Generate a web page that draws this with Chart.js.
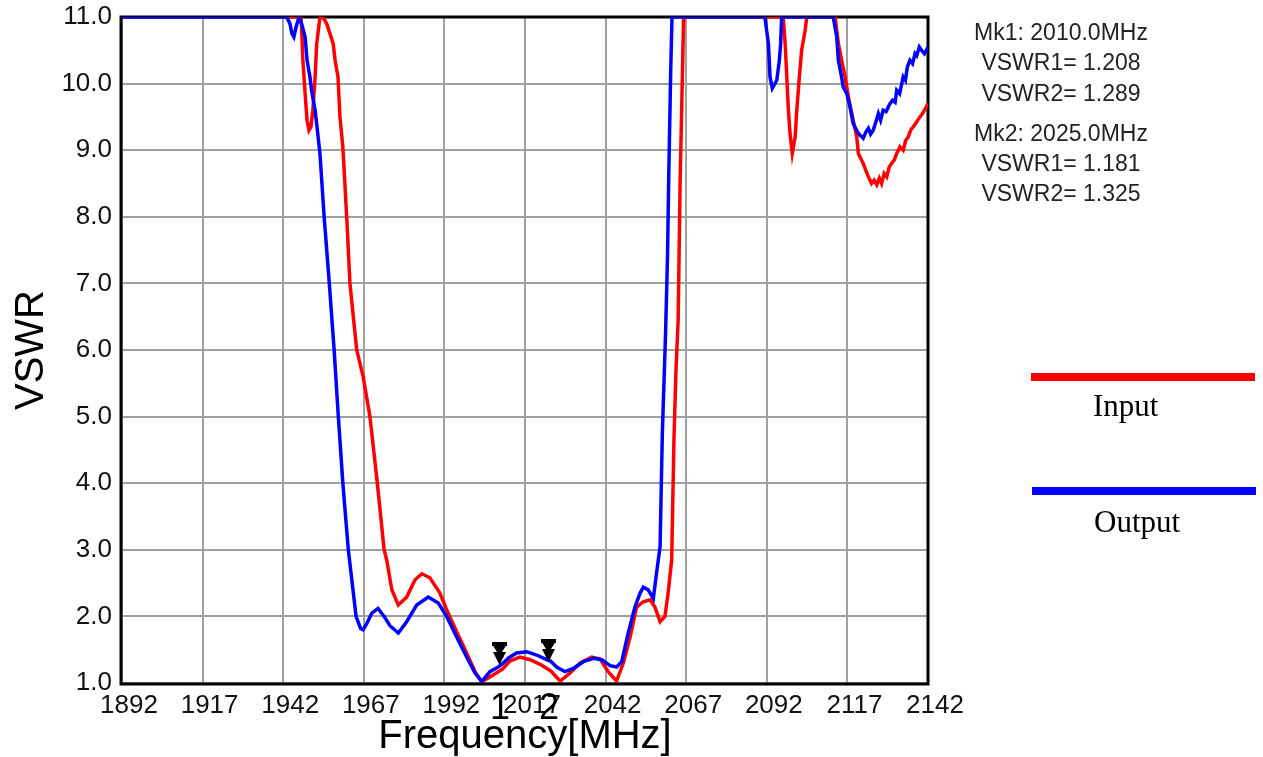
<!DOCTYPE html>
<html>
<head>
<meta charset="utf-8">
<script src="https://cdn.jsdelivr.net/npm/chart.js@4.4.0/dist/chart.umd.min.js"></script>
<style>
  html, body { margin: 0; padding: 0; background: #fff; }
  #wrap { position: relative; width: 1263px; height: 757px; }
</style>
</head>
<body>
<div id="wrap"><canvas id="vswr"></canvas></div>
<script>
// Colors
const COLORS = {
    input: '#ff0000',
    output: '#0000ff',
    grid: '#a0a0a0',
    axis: '#000000',
    text: '#111111'
};

// Input trace (VSWR1, red)
const inputFreq = [1892, 1947.5, 1947.7, 1948.1, 1948.8, 1949.4, 1950.0, 1950.6, 1951.2, 1951.9,
    1952.4, 1953.4, 1954.3, 1955.5, 1956.5, 1957.5, 1958.1, 1959.0, 1959.6, 1960.5,
    1961.7, 1962.7, 1964.8, 1966.8, 1968.9, 1971.2, 1973.3, 1974.1, 1975.7, 1977.7,
    1980.3, 1982.9, 1985.0, 1987.5, 1990.6, 1992.7, 1995.8, 1998.9, 2001.5, 2003.6,
    2006.1, 2010.0, 2012.3, 2015.4, 2018.6, 2021.7, 2025.0, 2027.9, 2031.0, 2034.1,
    2037.7, 2040.3, 2042.8, 2045.4, 2047.5, 2049.6, 2051.6, 2053.7, 2055.8, 2057.3,
    2058.9, 2060.4, 2061.4, 2062.5, 2063.2, 2063.8, 2064.5, 2064.8, 2065.1, 2065.7,
    2066.2, 2097.1, 2097.7, 2098.2, 2098.7, 2099.2, 2099.9, 2100.8, 2101.3, 2102.1,
    2102.8, 2103.9, 2104.4, 2113.2, 2114.2, 2115.2, 2116.3, 2117.3, 2118.8, 2119.9,
    2120.4, 2121.9, 2123.5, 2124.5, 2125.3, 2126.1, 2126.9, 2127.6, 2128.4, 2129.2,
    2130.0, 2130.7, 2131.5, 2132.3, 2133.3, 2134.3, 2135.1, 2135.9, 2136.6, 2137.4,
    2138.4, 2139.5, 2140.3, 2140.9, 2142];
const inputVswr = [11, 11, 10.85, 10.35, 9.85, 9.45, 9.3, 9.35, 9.6, 10.1,
    10.6, 11, 11, 10.9, 10.75, 10.6, 10.35, 10.1, 9.5, 9.05,
    8.0, 7.0, 6.0, 5.6, 5.0, 4.0, 3.0, 2.85, 2.4, 2.17,
    2.29, 2.55, 2.64, 2.58, 2.35, 2.1, 1.77, 1.45, 1.17, 1.02,
    1.09, 1.208, 1.33, 1.39, 1.35, 1.28, 1.181, 1.03, 1.15, 1.3,
    1.39, 1.36, 1.17, 1.03, 1.3, 1.69, 2.14, 2.22, 2.25, 2.14,
    1.92, 2.0, 2.35, 2.85, 4.65, 5.65, 6.45, 7.45, 8.5, 9.85,
    11, 11, 10.6, 10.1, 9.6, 9.25, 8.95, 9.2, 9.6, 10.1,
    10.5, 10.8, 11, 11, 10.6, 10.35, 10.1, 9.8, 9.45, 9.2,
    8.95, 8.8, 8.6, 8.5, 8.55, 8.48, 8.58, 8.5, 8.65, 8.6,
    8.75, 8.8, 8.85, 8.95, 9.05, 9.0, 9.15, 9.2, 9.3, 9.35,
    9.42, 9.5, 9.55, 9.6, 9.7];

// Output trace (VSWR2, blue)
const outputFreq = [1892, 1943.1, 1944.1, 1944.7, 1945.3, 1946.0, 1946.9, 1947.7, 1948.8, 1949.4,
    1950.3, 1950.8, 1951.9, 1952.6, 1953.4, 1954.7, 1956.3, 1957.8, 1959.1, 1960.5,
    1962.2, 1964.6, 1966.0, 1966.8, 1968.0, 1969.5, 1971.4, 1973.3, 1975.1, 1977.7,
    1980.3, 1983.4, 1987.0, 1990.1, 1992.7, 1995.8, 1998.9, 2001.5, 2003.6, 2006.1,
    2008.7, 2010.0, 2012.0, 2014.4, 2017.5, 2020.6, 2023.7, 2025.0, 2026.8, 2029.4,
    2032.0, 2035.1, 2038.2, 2040.8, 2043.4, 2045.4, 2047.0, 2049.0, 2051.1, 2052.7,
    2053.7, 2055.2, 2056.8, 2057.8, 2058.9, 2059.6, 2060.6, 2061.2, 2061.6, 2062.2,
    2062.6, 2091.4, 2092.5, 2093.0, 2093.7, 2095.1, 2095.9, 2096.3, 2096.6, 2112.6,
    2113.7, 2114.2, 2115.2, 2115.7, 2116.8, 2117.8, 2118.8, 2120.4, 2121.9, 2122.8,
    2123.5, 2124.2, 2125.0, 2125.8, 2126.6, 2127.3, 2128.1, 2129.0, 2130.2, 2131.0,
    2131.8, 2132.3, 2133.2, 2134.3, 2135.0, 2135.6, 2136.4, 2137.2, 2138.0, 2138.5,
    2139.3, 2140.0, 2140.9, 2142];
const outputVswr = [11, 11, 10.9, 10.75, 10.7, 10.85, 11, 10.9, 10.7, 10.35,
    10.1, 9.9, 9.6, 9.3, 8.95, 8.0, 7.0, 6.0, 5.0, 4.0,
    3.0, 2.0, 1.82, 1.8, 1.9, 2.05, 2.12, 2.0, 1.86, 1.75,
    1.92, 2.17, 2.29, 2.2, 2.0, 1.69, 1.39, 1.15, 1.02, 1.17,
    1.24, 1.289, 1.38, 1.45, 1.47, 1.42, 1.35, 1.325, 1.24, 1.17,
    1.22, 1.32, 1.37, 1.35, 1.26, 1.24, 1.32, 1.75, 2.14, 2.35,
    2.44, 2.4, 2.27, 2.65, 3.05, 4.75, 6.25, 7.4, 8.65, 10.2,
    11, 11, 10.6, 10.1, 9.93, 10.05, 10.35, 10.6, 11, 11,
    10.7, 10.35, 10.1, 9.95, 9.85, 9.65, 9.4, 9.25, 9.18, 9.28,
    9.33, 9.24, 9.3, 9.42, 9.55, 9.45, 9.6, 9.58, 9.7, 9.75,
    9.72, 9.9, 9.85, 10.1, 10.05, 10.25, 10.35, 10.3, 10.45, 10.42,
    10.55, 10.5, 10.45, 10.55];

// Markers
const markerFreq = [2010.0, 2025.0];
const markerInput = [1.208, 1.181];
const markerOutput = [1.289, 1.325];

// Axes
const freqMin = 1892;
const freqMax = 2142;
const freqStep = 25;
const vswrMin = 1;
const vswrMax = 11;

const legendLabels = ['Input', 'Output'];

function toPoints(xs, ys) {
    return xs.map((f, i) => ({ x: f, y: ys[i] }));
}

function drawTriangle(ctx, cx, top, tip, half) {
    ctx.beginPath();
    ctx.moveTo(cx - half, top);
    ctx.lineTo(cx + half, top);
    ctx.lineTo(cx, tip);
    ctx.closePath();
    ctx.fill();
}

// Frame, markers, marker readout and legend
const extras = {
    id: 'extras',
    beforeDatasetsDraw(chart) {
        const { ctx, chartArea: a } = chart;
        ctx.save();
        ctx.strokeStyle = COLORS.axis;
        ctx.lineWidth = 3;
        ctx.strokeRect(a.left - 1, a.top, a.right - a.left + 1, a.bottom - a.top + 1);
        ctx.restore();
    },
    afterDraw(chart) {
        const { ctx, scales: { x, y } } = chart;
        ctx.save();

        // marker arrows and numbers
        markerFreq.forEach((f, i) => {
            const cx = Math.round(x.getPixelForValue(f)) - 3;
            const tip = Math.round(y.getPixelForValue(markerOutput[i])) + 1;
            ctx.fillStyle = '#000';
            ctx.fillRect(cx - 7, tip - 23, 15, 4);
            drawTriangle(ctx, cx + 0.5, tip - 21, tip - 9, 7.5);
            drawTriangle(ctx, cx + 0.5, tip - 13, tip, 6.5);
            ctx.font = '36px "Liberation Sans"';
            ctx.textAlign = 'center';
            ctx.textBaseline = 'alphabetic';
            ctx.fillText(String(i + 1), cx + 1, 719);
        });

        // marker readout
        const lines = [];
        markerFreq.forEach((f, i) => {
            lines.push(`Mk${i + 1}: ${f.toFixed(1)}MHz`);
            lines.push(`VSWR1= ${markerInput[i].toFixed(3)}`);
            lines.push(`VSWR2= ${markerOutput[i].toFixed(3)}`);
        });
        const baselines = [40, 70, 101, 141, 171, 201];
        ctx.fillStyle = '#222';
        ctx.font = '23px "Liberation Sans"';
        ctx.textAlign = 'center';
        lines.forEach((t, i) => ctx.fillText(t, 1061, baselines[i]));

        // legend
        ctx.fillStyle = COLORS.input;
        ctx.fillRect(1031, 373, 224, 8);
        ctx.fillStyle = COLORS.output;
        ctx.fillRect(1032, 487, 224, 8);
        ctx.fillStyle = '#000';
        ctx.font = '31px "Liberation Serif"';
        ctx.textAlign = 'left';
        ctx.fillText(legendLabels[0], 1093, 416);
        ctx.fillText(legendLabels[1], 1094, 532);

        ctx.restore();
    }
};

const ctx = document.getElementById('vswr').getContext('2d');
new Chart(ctx, {
    type: 'line',
    data: {
        datasets: [
            {
                label: legendLabels[1],
                data: toPoints(outputFreq, outputVswr),
                borderColor: COLORS.output,
                borderWidth: 3.5,
                pointRadius: 0,
                tension: 0,
                fill: false,
                order: 0
            },
            {
                label: legendLabels[0],
                data: toPoints(inputFreq, inputVswr),
                borderColor: COLORS.input,
                borderWidth: 3.5,
                pointRadius: 0,
                tension: 0,
                fill: false,
                order: 1
            }
        ]
    },
    options: {
        responsive: true,
        maintainAspectRatio: false,
        animation: false,
        events: [],
        layout: { padding: { left: 0, top: 17, right: 335, bottom: 0 } },
        plugins: {
            legend: { display: false },
            tooltip: { enabled: false }
        },
        scales: {
            x: {
                type: 'linear',
                min: freqMin,
                max: freqMax,
                afterFit: (s) => {
                    s.height = 74;
                    s.paddingLeft = 0;
                    s.paddingRight = 0;
                },
                grid: { color: COLORS.grid, lineWidth: 2, drawTicks: false },
                border: { display: false },
                ticks: {
                    stepSize: freqStep,
                    color: COLORS.text,
                    font: { family: 'Liberation Sans', size: 26 },
                    padding: 7,
                    labelOffset: 7,
                    maxRotation: 0,
                    autoSkip: false,
                    callback: (v) => String(Math.round(v))
                },
                title: {
                    display: true,
                    text: 'Frequency[MHz]',
                    color: '#000',
                    font: { family: 'Liberation Sans', size: 40, lineHeight: 1 },
                    padding: { top: 0, bottom: 0 }
                }
            },
            y: {
                min: vswrMin,
                max: vswrMax,
                afterFit: (s) => {
                    s.width = 122;
                    s.paddingTop = 0;
                    s.paddingBottom = 0;
                },
                grid: { color: COLORS.grid, lineWidth: 2, drawTicks: false },
                border: { display: false },
                ticks: {
                    stepSize: 1,
                    color: COLORS.text,
                    font: { family: 'Liberation Sans', size: 26 },
                    padding: 10,
                    callback: (v) => v.toFixed(1)
                },
                title: {
                    display: true,
                    text: 'VSWR',
                    color: '#000',
                    font: { family: 'Liberation Sans', size: 40, lineHeight: 1 },
                    padding: { top: 12, bottom: 0 }
                }
            }
        }
    },
    plugins: [extras]
});
</script>
</body>
</html>
